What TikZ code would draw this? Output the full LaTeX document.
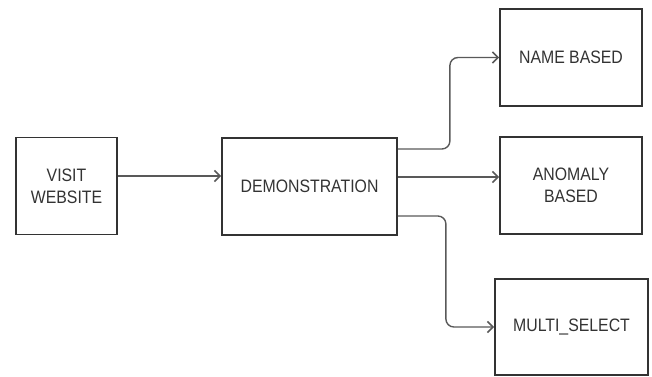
\documentclass[tikz,border=0pt]{standalone}
\usepackage{fontspec}
\setmainfont{Liberation Sans}
\usetikzlibrary{arrows.meta}
\begin{document}
\begin{tikzpicture}[x=1pt,y=-1pt,
  box/.style={draw=black!80,line width=1.8pt,fill=white,minimum width=#1,align=center,inner sep=0pt,text=black!80,font=\fontsize{18}{22}\selectfont},
  arr/.style={draw=black!65,line width=1.4pt,rounded corners=8pt,-{Straight Barb[length=5.5pt,width=11pt,line width=1.6pt]}}]
\useasboundingbox (0,0) rectangle (652,376);
\node[box=101pt,minimum height=97pt] (visit) at (66.5,186) {\scalebox{0.88}[1]{VISIT}\\\scalebox{0.88}[1]{WEBSITE}};
\node[box=175pt,minimum height=97pt] (demo) at (309.5,186.5) {\scalebox{0.88}[1]{DEMONSTRATION}};
\node[box=142pt,minimum height=97pt] (name) at (571,57.5) {\scalebox{0.88}[1]{NAME BASED}};
\node[box=142pt,minimum height=97pt] (anom) at (571,185.5) {\scalebox{0.88}[1]{ANOMALY}\\\scalebox{0.88}[1]{BASED}};
\node[box=153pt,minimum height=96pt] (multi) at (571.5,327) {\scalebox{0.88}[1]{MULTI\_SELECT}};
\draw[arr] ([yshift=10pt]visit.east) -- ([yshift=10pt]visit.east -| demo.west);
\draw[arr] ([yshift=37.5pt]demo.east) -- ++(52,0) |- (name.west);
\draw[arr] ([yshift=9.5pt]demo.east) -- ([yshift=9.5pt]demo.east -| anom.west);
\draw[arr] ([yshift=-29.5pt]demo.east) -- ++(48,0) |- (multi.west);
\end{tikzpicture}
\end{document}
